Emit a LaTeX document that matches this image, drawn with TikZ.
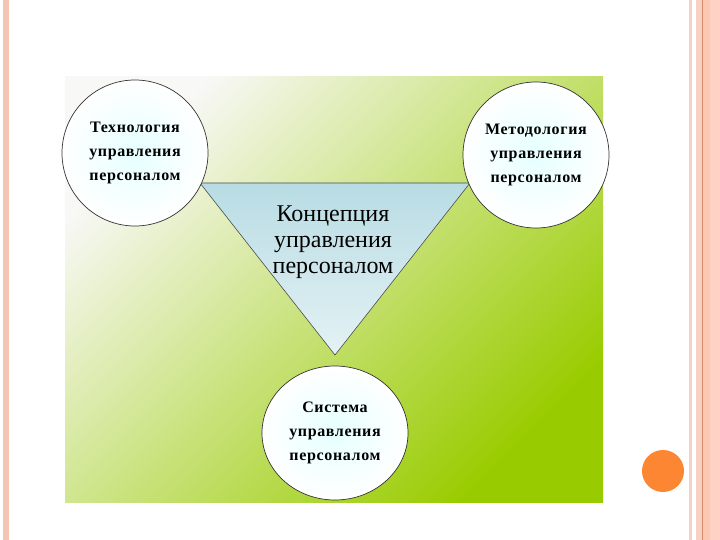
\documentclass[tikz,border=0pt]{standalone}
\usepackage{fontspec}
\usetikzlibrary{shapes.geometric}
\setmainfont{Liberation Serif}
\begin{document}
\begin{tikzpicture}[x=1pt,y=-1pt,
  circ/.style={circle,draw=black!80,line width=0.7pt,minimum size=146pt,inner sep=0pt,
    inner color=cyan!10!white,outer color=white,align=center,
    font=\fontsize{16}{24}\selectfont\bfseries\addfontfeature{LetterSpace=4}},
  tri/.style={draw=black!70,line width=0.6pt,top color=trtop,bottom color=trbot}]
\definecolor{bgend}{HTML}{99CC00}
\definecolor{bgmid}{HTML}{DAEAB4}
\definecolor{bgstart}{HTML}{F8F8F6}
\definecolor{trtop}{HTML}{B8DCE4}
\definecolor{trbot}{HTML}{E4F2F4}
\useasboundingbox (0,0) rectangle (720,540);
\fill[white] (0,0) rectangle (720,540);
% side stripes
\fill[fill={rgb,255:red,246;green,197;blue,178}] (3,0) rectangle (9,540);
\fill[fill={rgb,255:red,246;green,208;blue,198}] (689,0) rectangle (692,540);
\fill[fill={rgb,255:red,248;green,208;blue,196}] (696,0) rectangle (702,540);
\fill[fill={rgb,255:red,214;green,140;blue,110}] (702,0) rectangle (703.2,540);
\fill[fill={rgb,255:red,252;green,200;blue,176}] (703.2,0) rectangle (710,540);
\fill[fill={rgb,255:red,255;green,210;blue,198}] (710,0) rectangle (720,540);
% orange dot
\fill[fill={rgb,255:red,253;green,134;blue,50}] (663,471) circle (21);
% background panel
\shade[top color=bgstart,middle color=bgmid,bottom color=bgend,shading angle=45]
  (65,77) rectangle (603,502);
% triangle
\node[coordinate] (tl) at (200,183) {};
\node[coordinate] (tr) at (470,183) {};
\node[coordinate] (tb) at (335,355) {};
\path[tri] (tl) -- (tr) -- (tb) -- cycle;
\node[align=center,font=\fontsize{24}{26}\selectfont] (concept) at (333,242)
  {Концепция\\управления\\персоналом};
% circles
\node[circ] (tech) at (135,153) {Технология\\управления\\персоналом};
\node[circ] (meth) at (536,155) {Методология\\управления\\персоналом};
\node[circ,ellipse,minimum width=146pt,minimum height=134pt] (sys) at (335,433)
  {Система\\управления\\персоналом};
\end{tikzpicture}
\end{document}
